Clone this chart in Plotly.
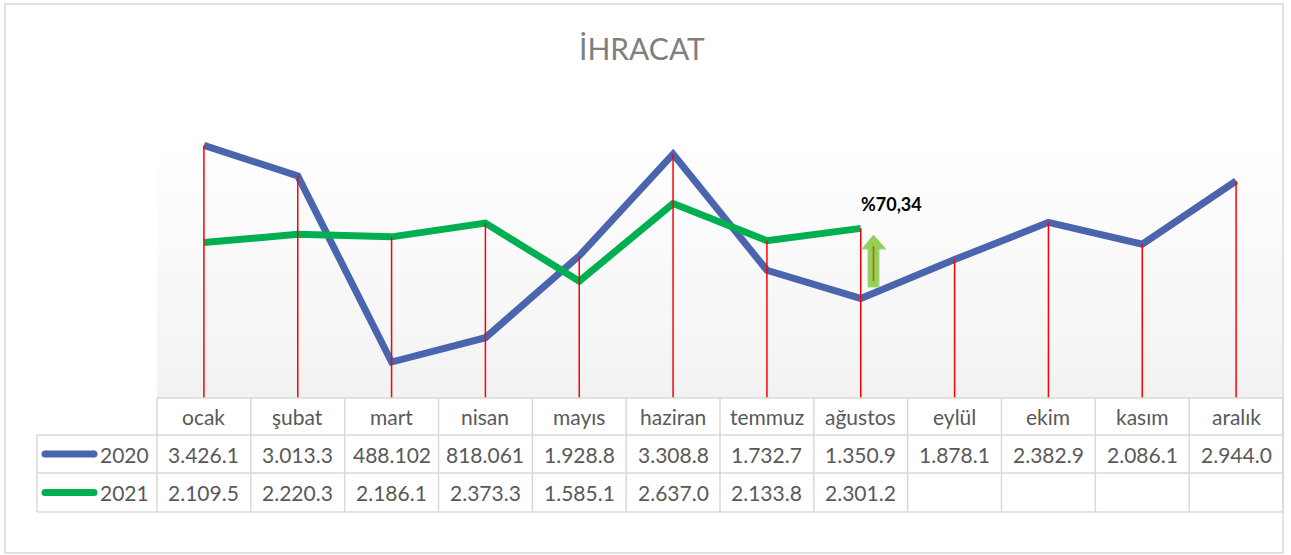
import plotly.graph_objects as go

# ---------------- data ----------------
months = ["ocak", "şubat", "mart", "nisan", "mayıs", "haziran", "temmuz",
          "ağustos", "eylül", "ekim", "kasım", "aralık"]
exp_2020 = [3426.1, 3013.3, 488.102, 818.061, 1928.8, 3308.8, 1732.7,
            1350.9, 1878.1, 2382.9, 2086.1, 2944.0]
exp_2021 = [2109.5, 2220.3, 2186.1, 2373.3, 1585.1, 2637.0, 2133.8, 2301.2]
labels_2020 = ["3.426.1", "3.013.3", "488.102", "818.061", "1.928.8", "3.308.8",
               "1.732.7", "1.350.9", "1.878.1", "2.382.9", "2.086.1", "2.944.0"]
labels_2021 = ["2.109.5", "2.220.3", "2.186.1", "2.373.3", "1.585.1", "2.637.0",
               "2.133.8", "2.301.2"]
series_names = ["2020", "2021"]
title_text = "İHRACAT"
change_text = "%70,34"

# ---------------- geometry helpers ----------------
W, H = 1291, 555
PL, PR, PT, PB = 157, 1283, 140, 398   # plot area in pixels


def px(x):
    return (x - PL) / (PR - PL)


def py(y):
    return (PB - y) / (PB - PT)


BLUE = "#4A65AD"
GREEN = "#00B050"
RED = "#FF0000"
GRID = "#D9D9D9"
TXT = "#595959"
FONT = "Lato"

fig = go.Figure()

fig.add_trace(go.Scatter(x=months, y=exp_2020, mode="lines", name=series_names[0],
                         line=dict(color=BLUE, width=7), cliponaxis=False,
                         hoverinfo="x+y"))
fig.add_trace(go.Scatter(x=months[:len(exp_2021)], y=exp_2021, mode="lines",
                         name=series_names[1], line=dict(color=GREEN, width=7),
                         cliponaxis=False, hoverinfo="x+y"))

# drop lines from the highest point of each category to the axis
dx, dy = [], []
for i, m in enumerate(months):
    vals = [exp_2020[i]] + ([exp_2021[i]] if i < len(exp_2021) else [])
    dx += [m, m, None]
    dy += [max(vals), 0, None]
fig.add_trace(go.Scatter(x=dx, y=dy, mode="lines", line=dict(color=RED, width=1.5),
                         hoverinfo="skip", showlegend=False, cliponaxis=False))

shapes = []
# gradient background of the plot area
N = 64
for k in range(N):
    t = k / (N - 1)
    c = int(round(0xF2 + (0xFF - 0xF2) * t))
    shapes.append(dict(type="rect", xref="paper", yref="paper",
                       x0=0, x1=1, y0=k / N, y1=(k + 1) / N,
                       fillcolor=f"rgb({c},{c},{c})", line=dict(width=0),
                       layer="below"))

# outer chart border
shapes.append(dict(type="rect", xref="paper", yref="paper",
                   x0=px(5), x1=px(1283), y0=py(553), y1=py(4),
                   line=dict(color=GRID, width=1.5), fillcolor="rgba(0,0,0,0)"))

# data table grid
ncol = len(months)
colw = (PR - PL) / ncol
rows_y = [398, 435, 473, 512]
LEG_L = 37
for j, yy in enumerate(rows_y):
    x0 = PL if j == 0 else LEG_L
    shapes.append(dict(type="line", xref="paper", yref="paper",
                       x0=px(x0), x1=px(PR), y0=py(yy), y1=py(yy),
                       line=dict(color=GRID, width=1.5)))
for k in range(ncol + 1):
    xx = PL + k * colw
    shapes.append(dict(type="line", xref="paper", yref="paper",
                       x0=px(xx), x1=px(xx), y0=py(rows_y[0]), y1=py(rows_y[-1]),
                       line=dict(color=GRID, width=1.5)))
shapes.append(dict(type="line", xref="paper", yref="paper",
                   x0=px(LEG_L), x1=px(LEG_L), y0=py(rows_y[1]), y1=py(rows_y[-1]),
                   line=dict(color=GRID, width=1.5)))

# legend keys inside the table
for yy, col in [((rows_y[1] + rows_y[2]) / 2, BLUE), ((rows_y[2] + rows_y[3]) / 2, GREEN)]:
    shapes.append(dict(type="line", xref="paper", yref="paper",
                       x0=px(45), x1=px(94), y0=py(yy), y1=py(yy),
                       line=dict(color=col, width=7)))
    shapes.append(dict(type="circle", xref="paper", yref="paper",
                       x0=px(41.5), x1=px(48.5), y0=py(yy + 3.5), y1=py(yy - 3.5),
                       fillcolor=col, line=dict(width=0)))
    shapes.append(dict(type="circle", xref="paper", yref="paper",
                       x0=px(90.5), x1=px(97.5), y0=py(yy + 3.5), y1=py(yy - 3.5),
                       fillcolor=col, line=dict(width=0)))

# green up arrow near ağustos
ax = [868, 879, 879, 886, 873.5, 862, 868]
ay = [287, 287, 249, 249, 235, 249, 249]
path = "M " + " L ".join(f"{px(a)},{py(b)}" for a, b in zip(ax, ay)) + " Z"
shapes.append(dict(type="path", xref="paper", yref="paper", path=path,
                   fillcolor="#92D050", line=dict(color="#A9D18E", width=1)))
shapes.append(dict(type="line", xref="paper", yref="paper",
                   x0=px(873.5), x1=px(873.5), y0=py(246), y1=py(281),
                   line=dict(color="#C55A11", width=1.5)))

annotations = []
annotations.append(dict(text=title_text, xref="paper", yref="paper",
                        x=px(642), y=py(48), showarrow=False,
                        font=dict(family=FONT, size=30, color="#7F7F7F"),
                        xanchor="center", yanchor="middle"))
annotations.append(dict(text=f"<b>{change_text}</b>", xref="paper", yref="paper",
                        x=px(892), y=py(204), showarrow=False,
                        font=dict(family=FONT, size=18, color="#000000"),
                        xanchor="center", yanchor="middle"))

cell_font = dict(family=FONT, size=21, color=TXT)
row_centers = [(rows_y[i] + rows_y[i + 1]) / 2 for i in range(3)]
for i, m in enumerate(months):
    annotations.append(dict(text=m, xref="x", yref="paper", x=m, y=py(row_centers[0]),
                            showarrow=False, font=cell_font, xanchor="center",
                            yanchor="middle"))
    annotations.append(dict(text=labels_2020[i], xref="x", yref="paper", x=m,
                            y=py(row_centers[1]), showarrow=False, font=cell_font,
                            xanchor="center", yanchor="middle"))
    if i < len(labels_2021):
        annotations.append(dict(text=labels_2021[i], xref="x", yref="paper", x=m,
                                y=py(row_centers[2]), showarrow=False, font=cell_font,
                                xanchor="center", yanchor="middle"))
for name, yc in zip(series_names, row_centers[1:]):
    annotations.append(dict(text=name, xref="paper", yref="paper", x=px(151), y=py(yc),
                            showarrow=False, font=cell_font, xanchor="right",
                            yanchor="middle"))

fig.update_layout(
    width=W, height=H,
    margin=dict(l=PL, r=W - PR, t=PT, b=H - PB, pad=0),
    paper_bgcolor="white", plot_bgcolor="white",
    showlegend=False,
    xaxis=dict(type="category", range=[-0.5, ncol - 0.5], showticklabels=False,
               showgrid=False, zeroline=False, showline=False, ticks="",
               fixedrange=True),
    yaxis=dict(range=[0, 3500], visible=False, showgrid=False, zeroline=False,
               fixedrange=True),
    shapes=shapes, annotations=annotations,
    font=dict(family=FONT, color=TXT),
)

fig.write_html(
    "out.html",
    config={"displayModeBar": False},
    post_script="document.body.style.margin='0';document.body.style.padding='0';"
                "document.body.style.overflow='hidden';",
)
